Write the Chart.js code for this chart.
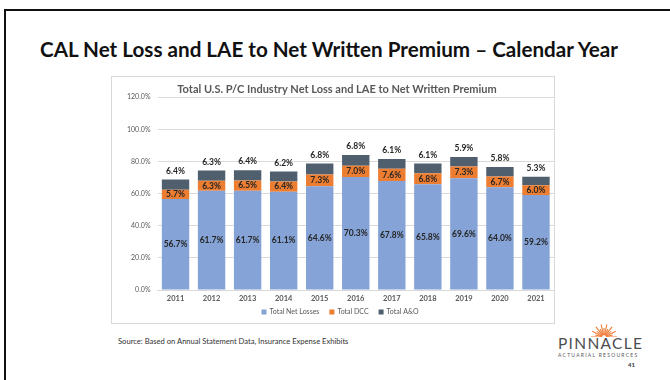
<!DOCTYPE html>
<html>
<head>
<meta charset="utf-8">
<script src="https://cdn.jsdelivr.net/npm/chart.js@4.4.1/dist/chart.umd.min.js"></script>
<style>
  html, body { margin: 0; padding: 0; background: #fff; }
  body { width: 670px; height: 380px; position: relative; overflow: hidden; font-family: Lato, "Open Sans", sans-serif; }
  .frame { position: absolute; left: 4px; top: 9px; width: 720px; height: 420px; border: 2px solid #111; }
  .heading { position: absolute; left: 40px; top: 37px; font-size: 20px; font-weight: bold; color: #111; white-space: nowrap; line-height: 24px; transform-origin: left center; }
  .chartbox { position: absolute; left: 111px; top: 76px; width: 442px; height: 246px; border: 1px solid #d9d9d9; }
  .source { position: absolute; left: 118px; top: 336px; font-size: 7.6px; color: #333; white-space: nowrap; }
  .logo { position: absolute; left: 556px; top: 322px; width: 100px; height: 50px; }
  .logo .name { position: absolute; left: 2px; top: 13px; font-size: 15.5px; font-weight: 400; letter-spacing: 1.3px; color: #4d4d4f; line-height: 16px; }
  .logo .sub { position: absolute; left: 2px; top: 30px; font-size: 5px; letter-spacing: 1.25px; color: #555; }
  .logo .page { position: absolute; left: 72px; top: 39px; font-size: 6px; font-weight: bold; color: #333; }
  .logo svg { position: absolute; left: 33px; top: 0px; }
</style>
</head>
<body>
<div class="frame"></div>
<div class="heading" id="heading">CAL Net Loss and LAE to Net Written Premium – Calendar Year</div>
<div class="chartbox"><canvas id="lossChart" width="442" height="246"></canvas></div>
<div class="source">Source: Based on Annual Statement Data, Insurance Expense Exhibits</div>
<div class="logo">
  <svg width="30" height="15" id="sun"></svg>
  <div class="name">PINNACLE</div>
  <div class="sub">ACTUARIAL RESOURCES</div>
  <div class="page">41</div>
</div>
<script>
// Ratios to net written premium, in percent
const years = ['2011', '2012', '2013', '2014', '2015', '2016', '2017', '2018', '2019', '2020', '2021'];
const netLosses = [56.7, 61.7, 61.7, 61.1, 64.6, 70.3, 67.8, 65.8, 69.6, 64.0, 59.2];
const dcc = [5.7, 6.3, 6.5, 6.4, 7.3, 7.0, 7.6, 6.8, 7.3, 6.7, 6.0];
const ao = [6.4, 6.3, 6.4, 6.2, 6.8, 6.8, 6.1, 6.1, 5.9, 5.8, 5.3];
const yTicks = [0, 20, 40, 60, 80, 100, 120];

// squeeze the heading to its slide width
const heading = document.getElementById('heading');
heading.style.transform = `scaleX(${578 / heading.offsetWidth})`;

// little sunburst over the logo
const sun = document.getElementById('sun');
let rays = '';
for (let i = 0; i <= 14; i++) {
  const a = Math.PI + (Math.PI * i) / 14;
  const len = i % 2 ? 9 : 13;
  const x1 = 15 + Math.cos(a) * 2, y1 = 15 + Math.sin(a) * 2;
  const x2 = 15 + Math.cos(a) * len, y2 = 15 + Math.sin(a) * len;
  rays += `<line x1="${x1}" y1="${y1}" x2="${x2}" y2="${y2}" stroke="#f07f3c" stroke-width="1.1"/>`;
}
sun.innerHTML = rays;

// value labels: inside the two lower segments, above the top one
const barLabels = {
  id: 'barLabels',
  afterDatasetsDraw(chart) {
    const ctx = chart.ctx;
    ctx.save();
    ctx.font = 'bold 8.5px Lato';
    ctx.textAlign = 'center';
    ctx.textBaseline = 'middle';
    ctx.fillStyle = '#262626';
    chart.data.datasets.forEach((ds, di) => {
      const meta = chart.getDatasetMeta(di);
      meta.data.forEach((bar, i) => {
        const txt = ds.data[i].toFixed(1) + '%';
        if (di < 2) {
          ctx.fillText(txt, bar.x, (bar.y + bar.base) / 2);
        } else {
          ctx.fillText(txt, bar.x, bar.y - 8.5);
        }
      });
    });
    ctx.restore();
  }
};

// compact legend row under the axis
const bottomLegend = {
  id: 'bottomLegend',
  afterDraw(chart) {
    const ctx = chart.ctx;
    const box = 5, gapIn = 3, gapOut = 10;
    ctx.save();
    ctx.font = '7px Lato';
    ctx.textBaseline = 'middle';
    const items = chart.data.datasets.map(ds => ({ text: ds.label, color: ds.backgroundColor, w: ctx.measureText(ds.label).width }));
    const total = items.reduce((s, it) => s + box + gapIn + it.w, 0) + gapOut * (items.length - 1);
    let x = chart.width / 2 + 7 - total / 2;
    const y = chart.height - 11;
    items.forEach(it => {
      ctx.fillStyle = it.color;
      ctx.fillRect(x, y - box / 2, box, box);
      ctx.fillStyle = '#595959';
      ctx.fillText(it.text, x + box + gapIn, y);
      x += box + gapIn + it.w + gapOut;
    });
    ctx.restore();
  }
};

const ctx = document.getElementById('lossChart').getContext('2d');
new Chart(ctx, {
  type: 'bar',
  data: {
    labels: years,
    datasets: [
      { label: 'Total Net Losses', data: netLosses, backgroundColor: '#85a3d6' },
      { label: 'Total DCC', data: dcc, backgroundColor: '#ed7d31' },
      { label: 'Total A&O', data: ao, backgroundColor: '#4f5f6e' }
    ]
  },
  options: {
    responsive: false,
    devicePixelRatio: 1,
    animation: false,
    layout: { padding: { left: 8, right: 0, top: 0, bottom: 16 } },
    datasets: {
      bar: { categoryPercentage: 1, barPercentage: 0.76, borderWidth: 0 }
    },
    plugins: {
      title: {
        display: true,
        text: 'Total U.S. P/C Industry Net Loss and LAE to Net Written Premium',
        color: '#595959',
        font: { family: 'Lato', size: 11, weight: 'bold' },
        padding: { top: 6, bottom: 1 }
      },
      legend: { display: false },
      tooltip: { enabled: false }
    },
    scales: {
      x: {
        stacked: true,
        grid: { display: false, drawTicks: false },
        border: { color: '#d9d9d9' },
        ticks: { color: '#595959', font: { family: 'Lato', size: 7.5, weight: 'bold' }, padding: 4 }
      },
      y: {
        stacked: true,
        min: 0,
        max: 120,
        afterBuildTicks: (axis) => { axis.ticks = yTicks.map(v => ({ value: v })); },
        grid: { color: '#d9d9d9', drawTicks: false },
        border: { display: false },
        ticks: {
          color: '#595959',
          font: { family: 'Lato', size: 7 },
          padding: 7,
          callback: (v) => v.toFixed(1) + '%'
        }
      }
    }
  },
  plugins: [barLabels, bottomLegend]
});
</script>
</body>
</html>
